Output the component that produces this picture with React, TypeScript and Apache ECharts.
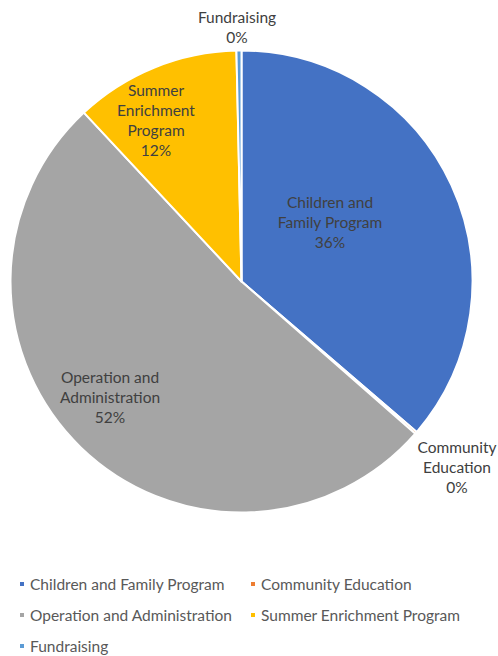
import React, { useEffect, useRef } from "react";
import * as echarts from "echarts";

const categories = [
  "Children and Family Program",
  "Community Education",
  "Operation and Administration",
  "Summer Enrichment Program",
  "Fundraising",
];
const values = [36.3, 0.15, 51.6, 11.6, 0.35];
const labelNames = [
  "Children and\nFamily Program",
  "Community\nEducation",
  "Operation and\nAdministration",
  "Summer\nEnrichment\nProgram",
  "Fundraising",
];
const colors = ["#4472C4", "#ED7D31", "#A5A5A5", "#FFC000", "#5B9BD5"];
const labelSpots = [
  [330, 222],
  [457, 467],
  [110, 397],
  [156, 120],
  [237, 27],
];

export default function App() {
  const ref = useRef<HTMLDivElement>(null);
  useEffect(() => {
    document.body.style.margin = "0";
    const chart = echarts.init(ref.current!, null, { renderer: "svg" });
    const font = "Lato, 'Open Sans', sans-serif";
    const legendCommon = {
      orient: "vertical",
      top: 576,
      height: 80,
      padding: 0,
      icon: "rect",
      itemWidth: 6,
      itemHeight: 6,
      itemGap: 15,
      textStyle: { color: "#595959", fontSize: 15.5, fontFamily: font, lineHeight: 16 },
    };
    chart.setOption({
      animation: false,
      backgroundColor: "#ffffff",
      color: colors,
      legend: [
        { ...legendCommon, left: 18, data: [categories[0], categories[2], categories[4]] },
        { ...legendCommon, left: 249, data: [categories[1], categories[3]] },
      ],
      series: [
        {
          type: "pie",
          center: [241.5, 281.5],
          radius: 231,
          startAngle: 90,
          clockwise: true,
          minAngle: 0,
          avoidLabelOverlap: false,
          itemStyle: { borderColor: "#ffffff", borderWidth: 2 },
          label: {
            show: true,
            position: "inside",
            color: "#404040",
            fontSize: 15.5,
            fontFamily: font,
            lineHeight: 20,
            align: "center",
            formatter: (p: any) =>
              labelNames[p.dataIndex] + "\n" + Math.round(p.percent) + "%",
          },
          labelLine: { show: false },
          labelLayout: (p: any) => {
            const s = labelSpots[p.dataIndex];
            return { x: s[0], y: s[1], align: "center", verticalAlign: "middle" };
          },
          emphasis: { disabled: true },
          data: categories.map((n, i) => ({ name: n, value: values[i] })),
        },
      ],
    });
    return () => chart.dispose();
  }, []);
  return <div ref={ref} style={{ width: 498, height: 656 }} />;
}
